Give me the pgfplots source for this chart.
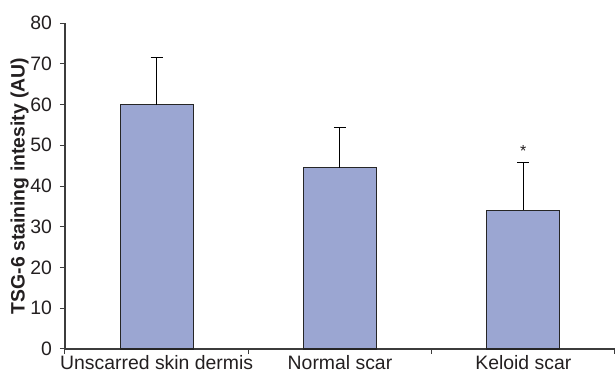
\documentclass[border=0pt]{standalone}
\usepackage{pgfplots}
\pgfplotsset{compat=1.18}
\usepackage{fontspec}
\setmainfont{Liberation Sans}
\definecolor{barfill}{RGB}{155,166,210}
\definecolor{txt}{RGB}{35,31,32}
\definecolor{axcol}{RGB}{60,60,60}
\begin{document}
\begin{tikzpicture}[font=\fontsize{9.7}{11.6}\selectfont, text=txt]
\useasboundingbox (-32.5pt,-13pt) rectangle (275.5pt,174.5pt);
\begin{axis}[
  at={(0,0)}, anchor=origin,
  scale only axis,
  width=275pt, height=163pt,
  xmin=0.5, xmax=3.5,
  ymin=0, ymax=80,
  ytick={0,10,...,80},
  axis x line*=bottom,
  axis y line*=left,
  axis line style={draw=axcol, line width=0.6pt},
  tick align=outside,
  major tick length=2.5pt,
  tick style={draw=axcol, line width=0.5pt},
  xtick={0.5,1.5,2.5,3.5},
  xticklabels={,,,},
  extra x ticks={1,2,3},
  extra x tick labels={Unscarred skin dermis, Normal scar, Keloid scar},
  extra x tick style={tick style={draw=none}, tick label style={yshift=3pt}},
  /pgf/number format/assume math mode=true,
  ticklabel style={font=\fontsize{9.7}{11.6}\selectfont, text=txt},
  yticklabel style={xshift=-0.5pt},
  ylabel={\textbf{TSG-6 staining intesity (AU)}},
  ylabel style={font=\fontsize{9.7}{11.6}\selectfont, text=txt},
  every axis y label/.style={at={(ticklabel cs:0.5)}, rotate=90, anchor=near ticklabel, yshift=-6pt},
  clip=false,
]
\addplot[ybar, bar width=36.5pt, fill=barfill, draw=black!85, line width=0.6pt,
  error bars/.cd, y dir=plus, y explicit,
  error bar style={draw=black, line width=0.5pt},
  error mark options={rotate=90, draw=black, line width=0.5pt, mark size=3pt}]
  coordinates {(1,60) +- (0,11.6) (2,44.5) +- (0,9.9) (3,34) +- (0,11.7)};
\node[font=\fontsize{8}{9}\selectfont, text=txt] at (axis cs:3,48.6) {*};
\end{axis}
\end{tikzpicture}
\end{document}
